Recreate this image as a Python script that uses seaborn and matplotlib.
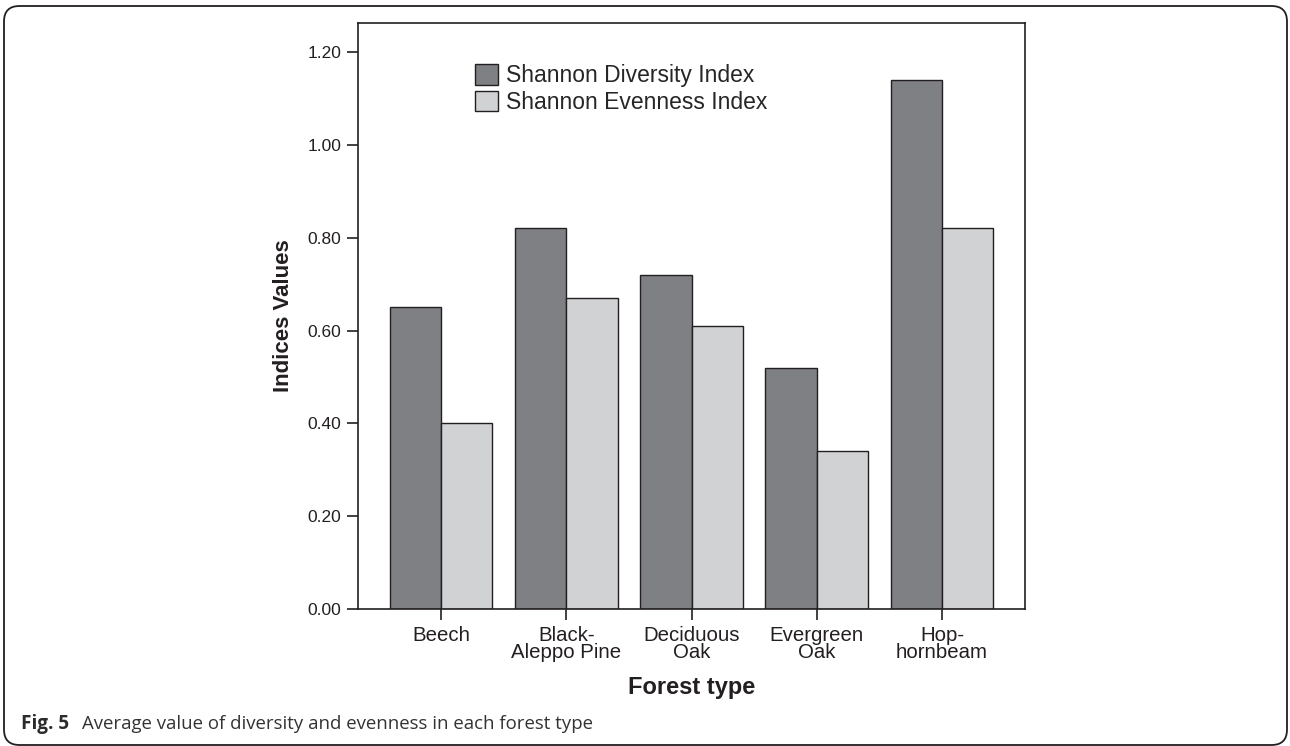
import pandas as pd
import numpy as np
import matplotlib.pyplot as plt
import seaborn as sns
from matplotlib.patches import FancyBboxPatch
from matplotlib.ticker import FormatStrFormatter

forest_types = ["Beech", "Black-\nAleppo Pine", "Deciduous\nOak", "Evergreen\nOak", "Hop-\nhornbeam"]
diversity = [0.65, 0.82, 0.72, 0.52, 1.14]
evenness = [0.40, 0.67, 0.61, 0.34, 0.82]
series_names = ["Shannon Diversity Index", "Shannon Evenness Index"]
y_ticks = [0.0, 0.2, 0.4, 0.6, 0.8, 1.0, 1.2]

DARK = "#7f8084"
LIGHT = "#d1d2d4"
EDGE = "#231f20"

sns.set_theme(style="white")
plt.rcParams["font.family"] = ["Liberation Sans", "DejaVu Sans"]

df = pd.DataFrame({
    "Forest type": forest_types * 2,
    "value": diversity + evenness,
    "series": [series_names[0]] * 5 + [series_names[1]] * 5,
})

fig = plt.figure(figsize=(12.9, 7.46), dpi=100)
ax = fig.add_axes([358 / 1290, 1 - 609 / 746, (1025 - 358) / 1290, (609 - 23) / 746])

sns.barplot(data=df, x="Forest type", y="value", hue="series",
            palette=[DARK, LIGHT], edgecolor=EDGE, linewidth=1.0,
            width=0.82, gap=0, saturation=1, ax=ax)

ax.set_xlim(-0.663, 4.663)
ax.set_ylim(0, 1.2625)
ax.set_yticks(y_ticks)
ax.yaxis.set_major_formatter(FormatStrFormatter("%.2f"))
ax.tick_params(axis="both", direction="out", length=8, width=1.2, color=EDGE,
               labelcolor=EDGE, left=True, bottom=True)
ax.tick_params(axis="y", labelsize=12.5, pad=4)
ax.tick_params(axis="x", labelsize=14.7, pad=4)
for lbl in ax.get_xticklabels():
    lbl.set_multialignment("center")
    lbl.set_linespacing(0.9)

for sp in ax.spines.values():
    sp.set_visible(True)
    sp.set_color(EDGE)
    sp.set_linewidth(1.2)

ax.set_xlabel("Forest type", fontsize=17, fontweight="bold", color=EDGE, labelpad=10)
ax.set_ylabel("Indices Values", fontsize=16, fontweight="bold", color=EDGE, labelpad=10)

ax.legend(loc="upper left", bbox_to_anchor=(0.1754, 0.93), frameon=False,
          fontsize=16.5, handlelength=1.0, handleheight=1.0, handletextpad=0.35,
          labelspacing=0.15, borderaxespad=0, borderpad=0)
for h in ax.get_legend().legend_handles:
    h.set_edgecolor(EDGE)
    h.set_linewidth(1.0)

# rounded frame around the figure
frame = FancyBboxPatch((4 / 1290, 1 / 746), 1283 / 1290, 739 / 746,
                       boxstyle="round,pad=0,rounding_size=0.012",
                       transform=fig.transFigure, fill=False,
                       edgecolor=EDGE, linewidth=1.3, mutation_aspect=1290 / 746)
fig.patches.append(frame)

fig.text(21 / 1290, 1 - 724 / 746, "Fig. 5", fontsize=13.6, fontweight="bold",
         family=["Open Sans", "DejaVu Sans"], color="#2b2b2b", va="center", ha="left")
fig.text(82 / 1290, 1 - 724 / 746, "Average value of diversity and evenness in each forest type",
         fontsize=13.4, family=["Open Sans", "DejaVu Sans"], color="#333333", va="center", ha="left")

fig.savefig("out.png", dpi=100)
